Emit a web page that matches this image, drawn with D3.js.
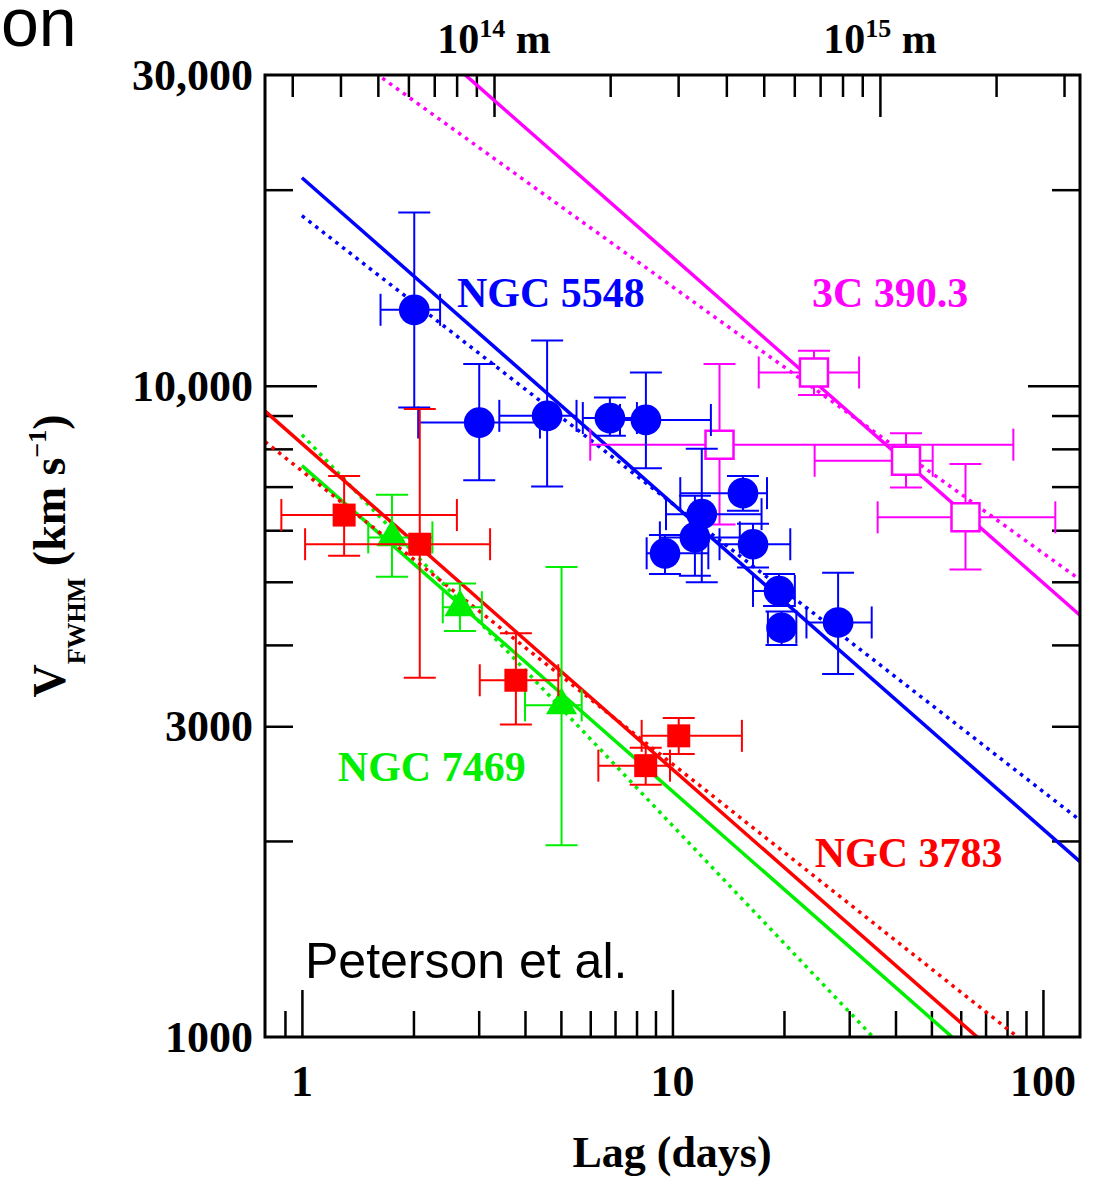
<!DOCTYPE html>
<html>
<head>
<meta charset="utf-8">
<script src="https://cdn.jsdelivr.net/npm/d3@7"></script>
<style>
body { margin: 0; background: #fff; }
svg { display: block; }
.serif { font-family: 'Liberation Serif', 'Times New Roman', serif; font-weight: bold; }
.sans { font-family: 'Liberation Sans', Arial, sans-serif; }
</style>
</head>
<body>
<script>
// NGC 5548 (blue circles)
var n5548Lag   = [2.01, 3.01, 4.59, 6.78, 8.48, 15.5, 12.0, 11.5, 9.55, 16.5, 19.4, 19.7, 28.0];
var n5548LagLo = [1.63, 2.06, 3.41, 5.73, 7.22, 10.5, 9.61, 9.25, 8.52, 13.4, 16.5, 18.1, 23.0];
var n5548LagHi = [2.36, 4.39, 5.51, 8.02, 12.7, 18.0, 17.4, 15.2, 12.5, 20.8, 21.4, 21.6, 34.5];
var n5548V     = [13080, 8780, 8990, 8920, 8860, 6840, 6350, 5850, 5530, 5710, 4840, 4250, 4330];
var n5548VLo   = [9260, 7160, 7000, 8380, 7470, 6430, 4990, 5110, 5140, 5260, 4590, 4000, 3610];
var n5548VHi   = [18450, 10800, 11730, 9590, 10480, 7270, 8000, 6780, 5900, 6140, 5140, 4500, 5160];

// 3C 390.3 (magenta open squares)
var c390Lag   = [24.1, 13.4, 42.7, 61.8];
var c390LagLo = [17.1, 6.0, 24.2, 35.8];
var c390LagHi = [31.9, 83.2, 50.4, 108];
var c390V     = [10480, 8120, 7670, 6280];
var c390VLo   = [9680, 6120, 6980, 5220];
var c390VHi   = [11320, 10800, 8450, 7580];

// NGC 7469 (green triangles)
var n7469Lag   = [1.75, 2.67, 5.02];
var n7469LagLo = [1.51, 2.40, 4.00];
var n7469LagHi = [2.25, 3.06, 5.69];
var n7469V     = [5850, 4570, 3230];
var n7469VLo   = [5090, 4200, 1970];
var n7469VHi   = [6800, 4970, 5270];

// NGC 3783 (red squares)
var n3783Lag   = [1.30, 2.08, 3.78, 8.47, 10.4];
var n3783LagLo = [0.88, 1.02, 3.02, 6.31, 8.26];
var n3783LagHi = [2.62, 3.22, 4.92, 9.85, 15.4];
var n3783V     = [6330, 5710, 3530, 2610, 2900];
var n3783VLo   = [5480, 3560, 3020, 2440, 2720];
var n3783VHi   = [7270, 9210, 4170, 2780, 3090];

// power-law fits V = norm * lag^slope (solid: slope -1/2, dotted: free slope)
var fitNames  = ['NGC 5548', '3C 390.3', 'NGC 7469', 'NGC 3783'];
var fitColors = ['#0000ff', '#ff00ff', '#00ee00', '#ff0000'];
var fitNorm   = [20860, 49850, 7540, 8150];
var fitSlope  = [-0.5, -0.5, -0.5, -0.5];
var freeNorm  = [18240, 36400, 8410, 7400];
var freeSlope = [-0.442, -0.409, -0.60, -0.45];
var fitFrom   = [1, 0.795, 1, 0.795];

// label anchors (lag, velocity)
var labelLag = [2.62, 23.8, 1.25, 24.2];
var labelV   = [13220, 13220, 2473, 1825];

// axis ticks
var xMajor = [1, 10, 100];
var xMinor = [0.9, 2, 3, 4, 5, 6, 7, 8, 9, 20, 30, 40, 50, 60, 70, 80, 90];
var yMajor = [10000];
var yMinor = [2000, 3000, 4000, 5000, 6000, 7000, 8000, 9000, 20000];
var yLabels = [1000, 3000, 10000, 30000];
var yLabelText = ['1000', '3000', '10,000', '30,000'];
var topMajor = [1e14, 1e15];
var topMinor = [3e13, 4e13, 5e13, 6e13, 7e13, 8e13, 9e13,
                2e14, 3e14, 4e14, 5e14, 6e14, 7e14, 8e14, 9e14, 2e15, 3e15];
var topExp = ['14', '15'];

var W = 1100, H = 1178;
var L = 265, R = 1080, T = 75, B = 1037;

var svg = d3.select('body').append('svg')
  .attr('width', W).attr('height', H);

var x = d3.scaleLog().domain([0.795, 125.9]).range([L, R]);
var y = d3.scaleLog().domain([1000, 30000]).range([B, T]);
var xTop = d3.scaleLog().domain([2.55e13, 3.30e15]).range([L, R]);

svg.append('clipPath').attr('id', 'plot')
  .append('rect').attr('x', L).attr('y', T).attr('width', R - L).attr('height', B - T);

// ticks
function ticks(axis, vals, size, tr) {
  var g = svg.append('g').attr('transform', tr)
    .call(axis.tickValues(vals).tickSize(size).tickFormat(''));
  g.select('.domain').remove();
  g.selectAll('.tick line').attr('stroke', '#000').attr('stroke-width', 2.5);
}
ticks(d3.axisBottom(x), xMinor, -26, 'translate(0,' + B + ')');
ticks(d3.axisBottom(x), xMajor, -47, 'translate(0,' + B + ')');
ticks(d3.axisLeft(y), yMinor, -28, 'translate(' + L + ',0)');
ticks(d3.axisLeft(y), yMajor, -52, 'translate(' + L + ',0)');
ticks(d3.axisRight(y), yMinor, -28, 'translate(' + R + ',0)');
ticks(d3.axisRight(y), yMajor, -52, 'translate(' + R + ',0)');
ticks(d3.axisTop(xTop), topMinor, -22, 'translate(0,' + T + ')');
ticks(d3.axisTop(xTop), topMajor, -42, 'translate(0,' + T + ')');

// fit lines
var line = d3.line().x(function(d) { return x(d[0]); }).y(function(d) { return y(d[1]); });
var fits = svg.append('g').attr('clip-path', 'url(#plot)');
fitNames.forEach(function(name, i) {
  var end = x.domain()[1];
  var solid = [[fitFrom[i], fitNorm[i] * Math.pow(fitFrom[i], fitSlope[i])],
               [end, fitNorm[i] * Math.pow(end, fitSlope[i])]];
  var dotted = [[fitFrom[i], freeNorm[i] * Math.pow(fitFrom[i], freeSlope[i])],
                [end, freeNorm[i] * Math.pow(end, freeSlope[i])]];
  fits.append('path').attr('d', line(dotted))
    .attr('fill', 'none').attr('stroke', fitColors[i]).attr('stroke-width', 3.5)
    .attr('stroke-dasharray', '3.5,5');
  fits.append('path').attr('d', line(solid))
    .attr('fill', 'none').attr('stroke', fitColors[i]).attr('stroke-width', 3.5);
});

// data with error bars
var cap = 16;
function series(lag, lagLo, lagHi, v, vLo, vHi, color, symbol, size, fill) {
  var g = svg.append('g');
  lag.forEach(function(t, i) {
    var px = x(t), py = y(v[i]);
    var eb = g.append('g').attr('stroke', color).attr('stroke-width', 2).attr('fill', 'none');
    eb.append('line').attr('x1', x(lagLo[i])).attr('x2', x(lagHi[i])).attr('y1', py).attr('y2', py);
    eb.append('line').attr('x1', x(lagLo[i])).attr('x2', x(lagLo[i])).attr('y1', py - cap).attr('y2', py + cap);
    eb.append('line').attr('x1', x(lagHi[i])).attr('x2', x(lagHi[i])).attr('y1', py - cap).attr('y2', py + cap);
    eb.append('line').attr('x1', px).attr('x2', px).attr('y1', y(vLo[i])).attr('y2', y(vHi[i]));
    eb.append('line').attr('x1', px - cap).attr('x2', px + cap).attr('y1', y(vLo[i])).attr('y2', y(vLo[i]));
    eb.append('line').attr('x1', px - cap).attr('x2', px + cap).attr('y1', y(vHi[i])).attr('y2', y(vHi[i]));
  });
  g.selectAll('path.pt').data(lag).enter().append('path')
    .attr('class', 'pt')
    .attr('d', d3.symbol().type(symbol).size(size))
    .attr('transform', function(d, i) { return 'translate(' + x(d) + ',' + y(v[i]) + ')'; })
    .attr('fill', fill)
    .attr('stroke', color)
    .attr('stroke-width', fill === '#fff' ? 2.5 : 0);
}
series(c390Lag, c390LagLo, c390LagHi, c390V, c390VLo, c390VHi, '#ff00ff', d3.symbolSquare, 784, '#fff');
series(n5548Lag, n5548LagLo, n5548LagHi, n5548V, n5548VLo, n5548VHi, '#0000ff', d3.symbolCircle, 740, '#0000ff');
series(n7469Lag, n7469LagLo, n7469LagHi, n7469V, n7469VLo, n7469VHi, '#00ee00', d3.symbolTriangle, 420, '#00ee00');
series(n3783Lag, n3783LagLo, n3783LagHi, n3783V, n3783VLo, n3783VHi, '#ff0000', d3.symbolSquare, 529, '#ff0000');

// object labels
fitNames.forEach(function(name, i) {
  svg.append('text').attr('class', 'serif')
    .attr('x', x(labelLag[i])).attr('y', y(labelV[i]))
    .attr('font-size', 42).attr('fill', fitColors[i])
    .text(name);
});

// frame
svg.append('rect').attr('x', L).attr('y', T).attr('width', R - L).attr('height', B - T)
  .attr('fill', 'none').attr('stroke', '#000').attr('stroke-width', 3);

// tick labels
svg.selectAll('text.xl').data(xMajor).enter().append('text')
  .attr('class', 'serif xl').attr('x', function(d) { return x(d); }).attr('y', 1096)
  .attr('text-anchor', 'middle').attr('font-size', 44)
  .text(function(d) { return d; });
svg.selectAll('text.yl').data(yLabels).enter().append('text')
  .attr('class', 'serif yl').attr('x', 253).attr('y', function(d) { return y(d) + 15; })
  .attr('text-anchor', 'end').attr('font-size', 44)
  .text(function(d, i) { return yLabelText[i]; });
topMajor.forEach(function(m, i) {
  var t = svg.append('text').attr('class', 'serif')
    .attr('x', xTop(m)).attr('y', 53).attr('text-anchor', 'middle').attr('font-size', 42);
  t.append('tspan').text('10');
  t.append('tspan').attr('font-size', 26).attr('dy', -16).text(topExp[i]);
  t.append('tspan').attr('dy', 16).text(' m');
});

// axis titles
svg.append('text').attr('class', 'serif')
  .attr('x', 672).attr('y', 1167).attr('text-anchor', 'middle').attr('font-size', 44)
  .text('Lag (days)');
var yt = svg.append('text').attr('class', 'serif')
  .attr('transform', 'translate(65,556) rotate(-90)')
  .attr('text-anchor', 'middle').attr('font-size', 46);
yt.append('tspan').text('V');
yt.append('tspan').attr('font-size', 26).attr('dy', 20).text('FWHM');
yt.append('tspan').attr('dy', -20).text(' (km s');
yt.append('tspan').attr('font-size', 26).attr('dy', -19).text('\u22121');
yt.append('tspan').attr('dy', 19).text(')');

// slide text
svg.append('text').attr('class', 'sans')
  .attr('x', 1).attr('y', 46).attr('font-size', 68).text('on');
svg.append('text').attr('class', 'sans')
  .attr('x', 305).attr('y', 978).attr('font-size', 50).text('Peterson et al.');
</script>
</body>
</html>
